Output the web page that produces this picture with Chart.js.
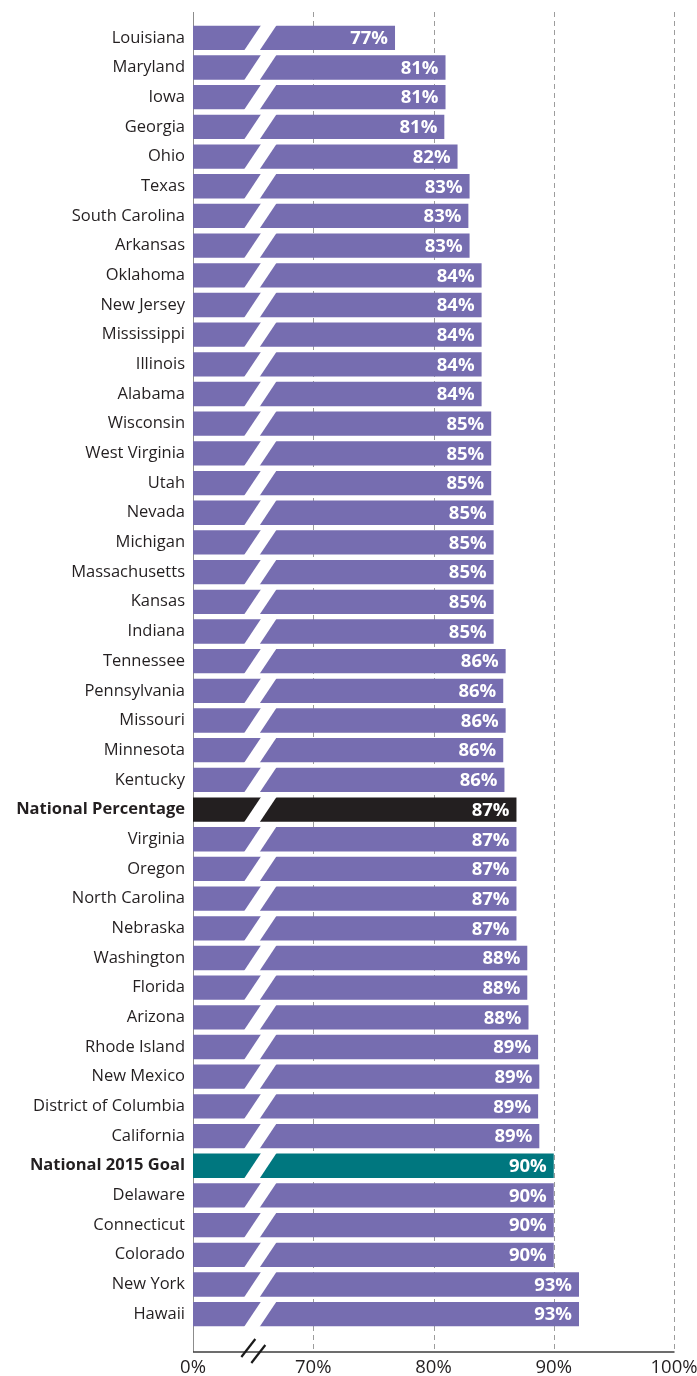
<!DOCTYPE html>
<html>
<head>
<meta charset="utf-8">
<script src="https://cdn.jsdelivr.net/npm/chart.js@4"></script>
<style>
  html, body { margin: 0; padding: 0; background: #fff; }
  #wrap { width: 697px; height: 1376px; position: relative; }
</style>
</head>
<body>
<div id="wrap"><canvas id="chart"></canvas></div>
<script>
const states = [
  'Louisiana', 'Maryland', 'Iowa', 'Georgia', 'Ohio', 'Texas', 'South Carolina', 'Arkansas',
  'Oklahoma', 'New Jersey', 'Mississippi', 'Illinois', 'Alabama', 'Wisconsin', 'West Virginia',
  'Utah', 'Nevada', 'Michigan', 'Massachusetts', 'Kansas', 'Indiana', 'Tennessee', 'Pennsylvania',
  'Missouri', 'Minnesota', 'Kentucky', 'National Percentage', 'Virginia', 'Oregon', 'North Carolina',
  'Nebraska', 'Washington', 'Florida', 'Arizona', 'Rhode Island', 'New Mexico',
  'District of Columbia', 'California', 'National 2015 Goal', 'Delaware', 'Connecticut',
  'Colorado', 'New York', 'Hawaii'
];
// bar lengths as drawn (percent)
const values = [
  76.8, 81.0, 81.0, 80.9, 82.0, 83.0, 82.9, 83.0,
  84.0, 84.0, 84.0, 84.0, 84.0, 84.8, 84.8,
  84.8, 85.0, 85.0, 85.0, 85.0, 85.0, 86.0, 85.8,
  86.0, 85.8, 85.9, 86.9, 86.9, 86.9, 86.9,
  86.9, 87.8, 87.8, 87.9, 88.7, 88.8,
  88.7, 88.8, 90.0, 90.0, 90.0,
  90.0, 92.1, 92.1
];
// printed labels
const valueLabels = [
  '77%', '81%', '81%', '81%', '82%', '83%', '83%', '83%',
  '84%', '84%', '84%', '84%', '84%', '85%', '85%',
  '85%', '85%', '85%', '85%', '85%', '85%', '86%', '86%',
  '86%', '86%', '86%', '87%', '87%', '87%', '87%',
  '87%', '88%', '88%', '88%', '89%', '89%',
  '89%', '89%', '90%', '90%', '90%',
  '90%', '93%', '93%'
];
// axis is broken: the left end (60 on the scale) is shown as 0%
const tickValues = [60, 70, 80, 90, 100];
const tickLabels = ['0%', '70%', '80%', '90%', '100%'];
const BREAK_AT = 65.6;

const FONT = '"Open Sans", "Noto Sans", sans-serif';
const barColors = states.map(s =>
  s === 'National Percentage' ? '#231f20' :
  s === 'National 2015 Goal' ? '#00777f' : '#766db0');
const isBold = s => s.startsWith('National');

const breakPlugin = {
  id: 'breaks',
  beforeDatasetsDraw(chart) {
    const { ctx, chartArea, scales: { x } } = chart;
    const top = chartArea.top - 11;
    const axisY = chartArea.bottom + 23;
    ctx.save();
    ctx.strokeStyle = '#9c9c9c';
    ctx.lineWidth = 1;
    ctx.setLineDash([5, 4]);
    tickValues.slice(1).forEach(v => {
      const px = Math.round(x.getPixelForValue(v)) + 0.5;
      ctx.beginPath();
      ctx.moveTo(px, top);
      ctx.lineTo(px, axisY);
      ctx.stroke();
    });
    ctx.setLineDash([]);
    ctx.strokeStyle = '#8c8c8c';
    const lx = Math.round(x.left) + 0.5;
    ctx.beginPath();
    ctx.moveTo(lx, top);
    ctx.lineTo(lx, axisY);
    ctx.stroke();
    ctx.strokeStyle = '#3c3c3c';
    ctx.lineWidth = 1.5;
    ctx.beginPath();
    ctx.moveTo(x.left, axisY);
    ctx.lineTo(x.right + 0.5, axisY);
    ctx.stroke();
    ctx.restore();
  },
  afterDatasetsDraw(chart) {
    const { ctx, chartArea, scales: { x } } = chart;
    const meta = chart.getDatasetMeta(0);
    const cx = x.getPixelForValue(BREAK_AT);
    ctx.save();
    // slanted white gap through every bar
    ctx.fillStyle = '#ffffff';
    meta.data.forEach(bar => {
      const h = bar.height / 2 + 1;
      const s = h * 0.667;
      ctx.beginPath();
      ctx.moveTo(cx - 7.75 - s, bar.y + h);
      ctx.lineTo(cx + 7.75 - s, bar.y + h);
      ctx.lineTo(cx + 7.75 + s, bar.y - h);
      ctx.lineTo(cx - 7.75 + s, bar.y - h);
      ctx.closePath();
      ctx.fill();
    });
    // value labels
    ctx.fillStyle = '#ffffff';
    ctx.font = 'bold 18.5px ' + FONT;
    ctx.textAlign = 'right';
    ctx.textBaseline = 'middle';
    meta.data.forEach((bar, i) => {
      ctx.fillText(valueLabels[i], bar.x - 7, bar.y + 1);
    });
    // axis break marks
    const axisY = chartArea.bottom + 23;
    const mx = cx - 7;
    ctx.strokeStyle = '#1a1a1a';
    ctx.lineWidth = 2.2;
    [[-5, -4], [5, 2]].forEach(([dx, dy]) => {
      ctx.beginPath();
      ctx.moveTo(mx + dx - 7, axisY + dy + 9);
      ctx.lineTo(mx + dx + 7, axisY + dy - 9);
      ctx.stroke();
    });
    ctx.restore();
  }
};

new Chart(document.getElementById('chart'), {
  type: 'bar',
  data: {
    labels: states,
    datasets: [{
      data: values,
      backgroundColor: barColors,
      borderWidth: 0,
      barPercentage: 0.82,
      categoryPercentage: 1
    }]
  },
  options: {
    indexAxis: 'y',
    responsive: true,
    maintainAspectRatio: false,
    animation: false,
    layout: { padding: { top: 23, right: 23, left: 0, bottom: 0 } },
    plugins: {
      legend: { display: false },
      tooltip: { enabled: false }
    },
    scales: {
      x: {
        type: 'linear',
        min: 60,
        max: 100,
        grid: { display: false, drawTicks: false },
        border: { display: false },
        afterBuildTicks: s => { s.ticks = tickValues.map(v => ({ value: v })); },
        afterFit: s => { s.height = 47; s.paddingLeft = 0; s.paddingRight = 0; },
        ticks: {
          autoSkip: false,
          maxRotation: 0,
          padding: 27.5,
          color: '#231f20',
          font: { family: FONT, size: 18.5 },
          callback: v => tickLabels[tickValues.indexOf(v)]
        }
      },
      y: {
        grid: { display: false, drawTicks: false },
        border: { display: false },
        afterFit: s => { s.width = 193; },
        ticks: {
          autoSkip: false,
          padding: 8,
          color: '#231f20',
          font: ctx => ({
            family: FONT,
            size: 16.5,
            weight: isBold(states[ctx.index] || '') ? 'bold' : 'normal'
          })
        }
      }
    }
  },
  plugins: [breakPlugin]
});
</script>
</body>
</html>
